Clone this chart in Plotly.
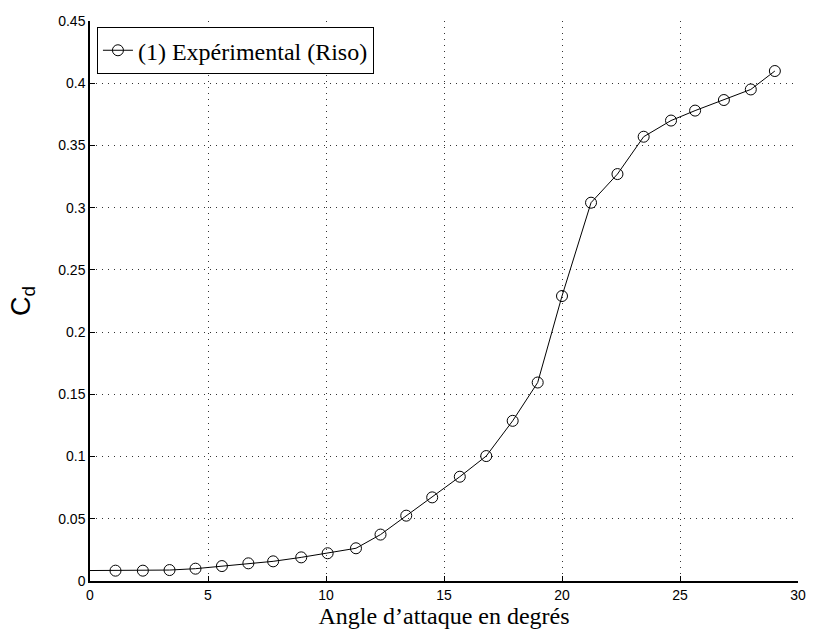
import plotly.graph_objects as go

angle = [-1.0, 1.08, 2.24, 3.37, 4.47, 5.59, 6.71, 7.76, 8.95, 10.07, 11.27, 12.31,
         13.40, 14.50, 15.67, 16.79, 17.91, 18.97, 20.0, 21.23, 22.35, 23.46,
         24.62, 25.64, 26.86, 28.0, 29.02]
cd = [0.0083, 0.0083, 0.0083, 0.0088, 0.0099, 0.012, 0.0142, 0.0158, 0.019, 0.0223,
      0.0263, 0.0373, 0.0525, 0.0672, 0.0838, 0.1004, 0.1287, 0.1595, 0.229,
      0.304, 0.327, 0.357, 0.370, 0.378, 0.3865, 0.395, 0.4098]

x_ticks = [0, 5, 10, 15, 20, 25, 30]
y_ticks = [0, 0.05, 0.1, 0.15, 0.2, 0.25, 0.3, 0.35, 0.4, 0.45]
y_tick_labels = ["0", "0.05", "0.1", "0.15", "0.2", "0.25", "0.3", "0.35", "0.4", "0.45"]

fig = go.Figure()
fig.add_trace(go.Scatter(
    x=angle, y=cd, mode="lines+markers",
    name="(1) Expérimental (Riso)",
    line=dict(color="black", width=1),
    marker=dict(symbol="circle-open", size=11, color="black", line=dict(width=1)),
    cliponaxis=True,
))

axis_common = dict(
    showline=True, linecolor="black", linewidth=1.5,
    ticks="inside", ticklen=5, tickcolor="black", tickwidth=1,
    showgrid=True, gridcolor="rgba(0,0,0,0.8)", griddash="1px,5px", gridwidth=1,
    zeroline=False, mirror=False, ticklabeloverflow="allow",
    tickfont=dict(family="Liberation Sans, Arial, sans-serif", size=14, color="black"),
)

fig.update_layout(
    width=813, height=635,
    margin=dict(l=90, r=7, t=21, b=54),
    paper_bgcolor="white", plot_bgcolor="white",
    xaxis=dict(range=[0, 30], tickvals=x_ticks, ticktext=[str(v) for v in x_ticks],
               title=dict(text="Angle d’attaque en degrés", standoff=4,
                          font=dict(family="Liberation Serif, DejaVu Serif, serif", size=24, color="black")),
               **axis_common),
    yaxis=dict(range=[0, 0.45], tickvals=y_ticks, ticktext=y_tick_labels,
               title=dict(text="C<sub>d</sub>", standoff=20,
                          font=dict(family="Liberation Sans, Arial, sans-serif", size=27, color="black")),
               **axis_common),
    legend=dict(x=0.0098, y=0.989, xanchor="left", yanchor="top",
                bgcolor="white", bordercolor="black", borderwidth=1,
                font=dict(family="Liberation Serif, DejaVu Serif, serif", size=24, color="black"),
                itemwidth=30),
    showlegend=True,
)

fig.write_html("out.html")
